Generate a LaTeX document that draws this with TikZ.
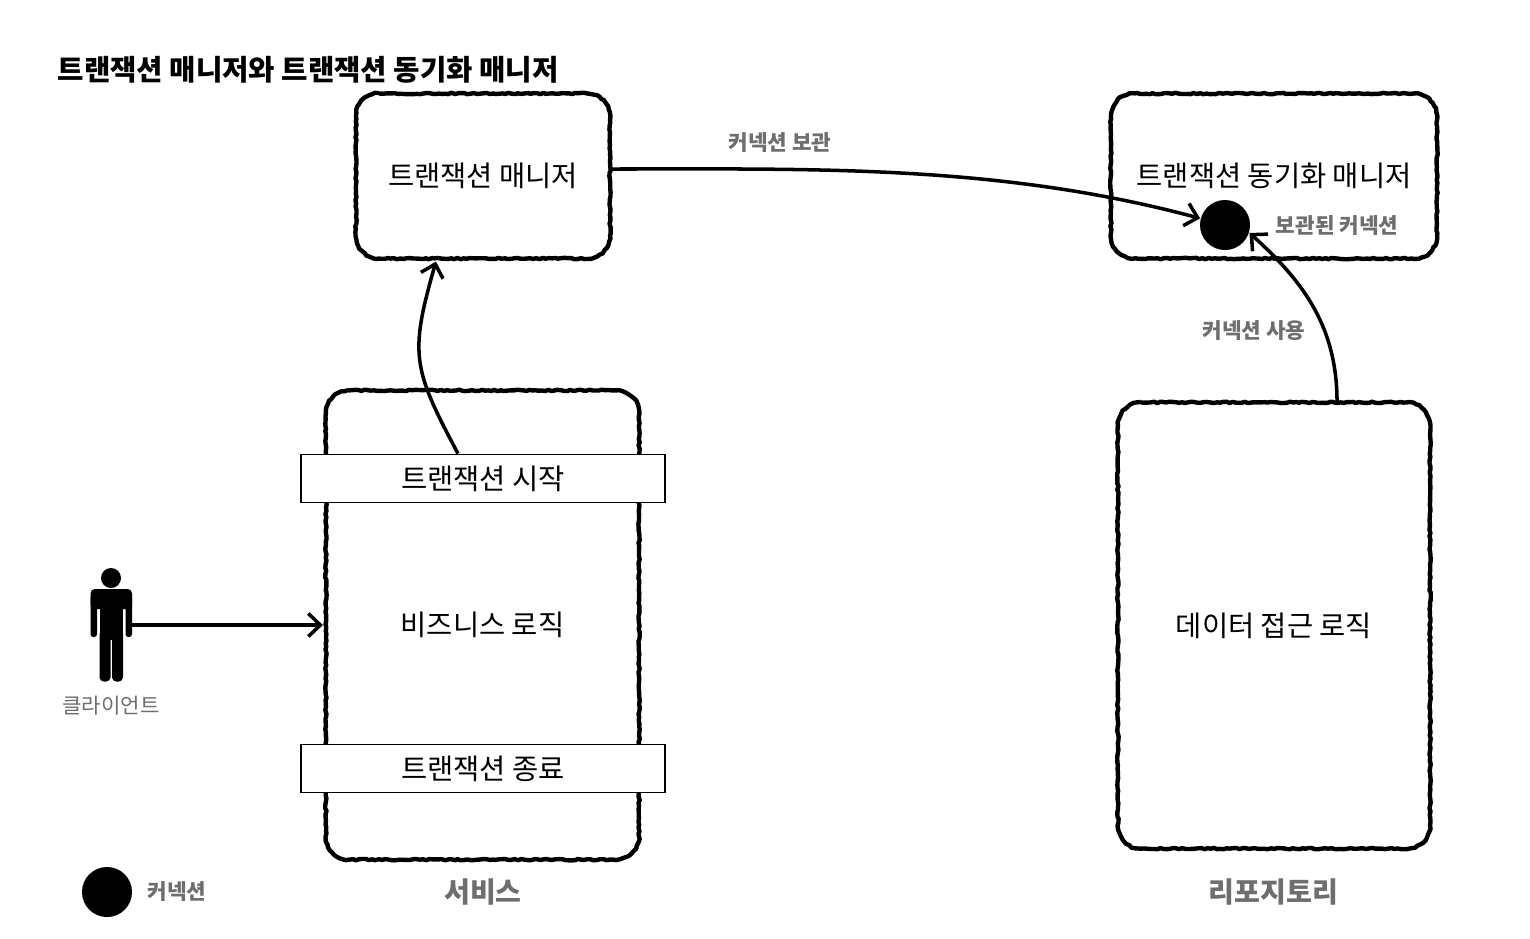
\documentclass[tikz,border=0pt]{standalone}
\usepackage{fontspec}
\setmainfont{Noto Sans CJK KR}
\usetikzlibrary{arrows.meta,
                positioning,
                decorations.pathmorphing
                }
\definecolor{labelgray}{HTML}{6E6E6E}
\newcommand{\roughoutline}[1]{%
    \draw[roughline] ([xshift=.23cm]#1.north west) -- ([xshift=-.23cm]#1.north east)
        arc[start angle=90, end angle=0, radius=.23cm] -- ([yshift=.23cm]#1.south east)
        arc[start angle=0, end angle=-90, radius=.23cm] -- ([xshift=.23cm]#1.south west)
        arc[start angle=-90, end angle=-180, radius=.23cm] -- ([yshift=-.23cm]#1.north west)
        arc[start angle=180, end angle=90, radius=.23cm] -- cycle;
}

\begin{document}
\begin{tikzpicture}[x=.01cm, y=-.01cm,
    roughbox/.style={outer sep=0pt, align=center, font=\fontsize{8.1}{10}\selectfont},
    roughline/.style={draw=black, line width=1.25pt, line join=round,
        decorate, decoration={random steps, segment length=.9pt, amplitude=.2pt}},
    stepbox/.style={draw=black, line width=.35pt, fill=white, minimum width=3.64cm, minimum height=.485cm, inner sep=0pt, font=\fontsize{8.1}{10}\selectfont},
    conn/.style={fill=black, circle, minimum size=.5cm, inner sep=0pt},
    flow/.style={draw=black, line width=1pt, -{Straight Barb[length=1.2mm, width=2.3mm, line width=1pt]}},
    smalllabel/.style={text=labelgray, inner sep=0pt, font=\fontsize{6.05}{8}\selectfont\bfseries},
    biglabel/.style={text=labelgray, inner sep=0pt, font=\fontsize{8}{10}\selectfont\bfseries}]
    \useasboundingbox (0,0) rectangle (1530,938);
    \node[anchor=west, inner sep=0pt, font=\fontsize{8.15}{10}\selectfont\bfseries] (title) at (57,70) {트랜잭션 매니저와 트랜잭션 동기화 매니저};

    \node[roughbox, minimum width=2.54cm, minimum height=1.65cm] (txmgr) at (483,176) {트랜잭션 매니저};
    \node[roughbox, minimum width=3.26cm, minimum height=1.65cm] (syncmgr) at (1274,176) {트랜잭션 동기화 매니저};
    \node[roughbox, minimum width=3.13cm, minimum height=4.69cm] (service) at (482.5,625) {비즈니스 로직};
    \node[roughbox, minimum width=3.12cm, minimum height=4.46cm] (repo) at (1274,625.5) {데이터 접근 로직};
    \foreach \boxname in {txmgr,syncmgr,service,repo}
        \roughoutline{\boxname};
    \node[stepbox] (txstart) at (483,478.5) {트랜잭션 시작};
    \node[stepbox] (txend) at (483,768.5) {트랜잭션 종료};
    \node[conn] (held) at (1225,225) {};
    \node[conn] (legend) at (107,892) {};

    % client figure
    \node[minimum width=.3cm, minimum height=1.1cm, inner sep=0pt] (client) at (111,625) {};
    \fill (111,578) circle (10);
    \fill[rounded corners=1.2pt] (90.5,589) rectangle (132,609);
    \fill[rounded corners=.8pt] (90.5,595) rectangle (97,637);
    \fill[rounded corners=.8pt] (125.5,595) rectangle (132,637);
    \fill (99.5,600) rectangle (123,640);
    \fill[rounded corners=1.2pt] (99.5,630) rectangle (110.5,681.5);
    \fill[rounded corners=1.2pt] (112,630) rectangle (123,681.5);

    \draw[flow] (client.east) -- ([xshift=-.03cm]service.west |- client.east);
    \draw[flow] ([xshift=-.25cm]txstart.north) to[out=118, in=-106, looseness=1.28] ([xshift=-.47cm, yshift=-.03cm]txmgr.south);
    \draw[flow] ([yshift=.07cm]txmgr.east) to[out=0, in=165, looseness=.9] (held.165);
    \draw[flow] ([xshift=.63cm]repo.north) to[out=90, in=-42, looseness=1] (held.-18);

    \node[smalllabel] (keep) at (780,142.5) {커넥션 보관};
    \node[smalllabel] (kept) at (1337,225.5) {보관된 커넥션};
    \node[smalllabel] (use) at (1254,330.5) {커넥션 사용};
    \node[smalllabel] (legendtext) at (177,891.5) {커넥션};
    \node[biglabel] (servicetext) at (483,891.5) {서비스};
    \node[biglabel] (repotext) at (1273.5,891.5) {리포지토리};
    \node[text=labelgray, inner sep=0pt, font=\fontsize{6}{8}\selectfont] (clienttext) at (111,706) {클라이언트};
\end{tikzpicture}
\end{document}
